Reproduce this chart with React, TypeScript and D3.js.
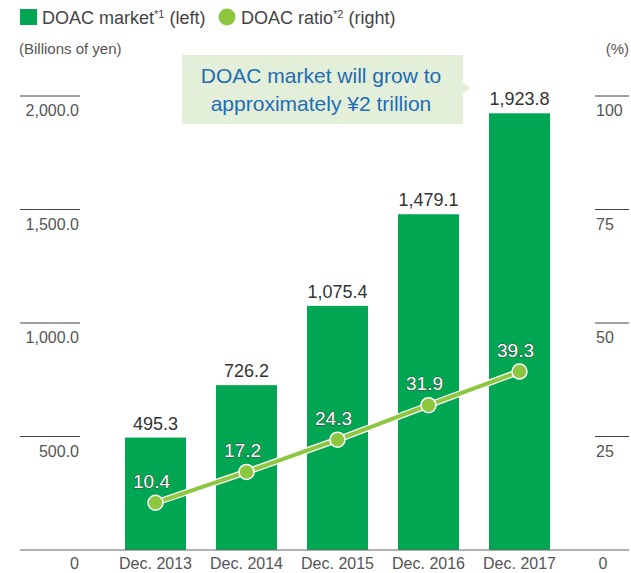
import React from "react";
import * as d3 from "d3";

const categories = ["Dec. 2013", "Dec. 2014", "Dec. 2015", "Dec. 2016", "Dec. 2017"];
const marketValues = [495.3, 726.2, 1075.4, 1479.1, 1923.8];
const ratioValues = [10.4, 17.2, 24.3, 31.9, 39.3];
const leftTicks = [0, 500, 1000, 1500, 2000];
const rightTicks = [0, 25, 50, 75, 100];

const FONT = "'Liberation Sans', Arial, Helvetica, sans-serif";
const BAR = "#00a651";
const LINE = "#8dc63f";
const GRAY = "#555";

export default function App() {
  const W = 631, H = 573;
  const baseY = 550, topY = 96;
  const x = d3.scaleBand<string>().domain(categories).range([110, 565]).paddingInner(0.33).paddingOuter(0.165);
  const yL = d3.scaleLinear().domain([0, 2000]).range([baseY, topY]);
  const yR = d3.scaleLinear().domain([0, 100]).range([baseY, topY]);
  const cx = (c: string) => (x(c) as number) + x.bandwidth() / 2;
  const line = d3.line<number>().x((_, i) => cx(categories[i])).y((d) => yR(d));
  const fmtL = (v: number) => (v === 0 ? "0" : d3.format(",.1f")(v));

  return (
    <svg width={W} height={H} style={{ position: "absolute", left: 0, top: 0, fontFamily: FONT }}>
      {/* legend */}
      <rect x={20} y={9} width={17} height={16} fill={BAR} />
      <text x={42} y={24} fontSize={18} fill="#444">
        DOAC market<tspan fontSize={11} dy={-6}>*1</tspan>
        <tspan dy={6}> (left)</tspan>
      </text>
      <circle cx={227} cy={17} r={8.5} fill={LINE} />
      <text x={241} y={24} fontSize={18} fill="#444">
        DOAC ratio<tspan fontSize={11} dy={-6}>*2</tspan>
        <tspan dy={6}> (right)</tspan>
      </text>
      <text x={19} y={54} fontSize={15} fill={GRAY}>(Billions of yen)</text>
      <text x={629} y={54} fontSize={15} fill={GRAY} textAnchor="end">(%)</text>

      {/* left axis ticks */}
      {leftTicks.map((t) => (
        <g key={"l" + t}>
          {t !== 0 && <line x1={20} x2={80} y1={yL(t)} y2={yL(t)} stroke="#444" strokeWidth={1} />}
          <text x={79} y={yL(t) + (t === 0 ? 19 : 20)} fontSize={16} fill={GRAY} textAnchor="end">{fmtL(t)}</text>
        </g>
      ))}
      {/* right axis ticks */}
      {rightTicks.map((t) => (
        <g key={"r" + t}>
          {t !== 0 && <line x1={595} x2={629} y1={yR(t)} y2={yR(t)} stroke="#444" strokeWidth={1} />}
          <text x={t === 0 ? 603 : 596} y={yR(t) + (t === 0 ? 19 : 20)} fontSize={16} fill={GRAY} textAnchor={t === 0 ? "middle" : "start"}>{t}</text>
        </g>
      ))}

      {/* bars */}
      {marketValues.map((v, i) => (
        <g key={"b" + i}>
          <rect x={x(categories[i])} y={yL(v)} width={x.bandwidth()} height={baseY - yL(v)} fill={BAR} />
          <text x={cx(categories[i])} y={yL(v) - 8} fontSize={18} fill="#333" textAnchor="middle">{d3.format(",.1f")(v)}</text>
        </g>
      ))}

      {/* baseline */}
      <line x1={20} x2={629} y1={baseY} y2={baseY} stroke="#666" strokeWidth={1.2} />

      {/* x labels */}
      {categories.map((c) => (
        <text key={c} x={cx(c)} y={569} fontSize={16} fill={GRAY} textAnchor="middle">{c}</text>
      ))}

      {/* ratio line */}
      <path d={line(ratioValues) || ""} fill="none" stroke="#fff" strokeWidth={6.5} />
      <path d={line(ratioValues) || ""} fill="none" stroke={LINE} strokeWidth={4} />
      {ratioValues.map((v, i) => (
        <circle key={"p" + i} cx={cx(categories[i])} cy={yR(v)} r={7.5} fill={LINE} stroke="#fff" strokeWidth={1.5} />
      ))}
      {ratioValues.map((v, i) => (
        <text key={"t" + i} x={cx(categories[i]) - 4} y={yR(v) - 15} fontSize={19} fill="#fff" stroke="#444" strokeWidth={1} paintOrder="stroke" textAnchor="middle">
          {v.toFixed(1)}
        </text>
      ))}

      {/* annotation */}
      <path d="M182,55 H463 V82 L470,88 L463,94 V124 H182 Z" fill="#e3efd9" />
      <text x={321} y={83} fontSize={21} fill="#1f6db5" textAnchor="middle">DOAC market will grow to</text>
      <text x={321} y={111} fontSize={21} fill="#1f6db5" textAnchor="middle">approximately ¥2 trillion</text>
    </svg>
  );
}
